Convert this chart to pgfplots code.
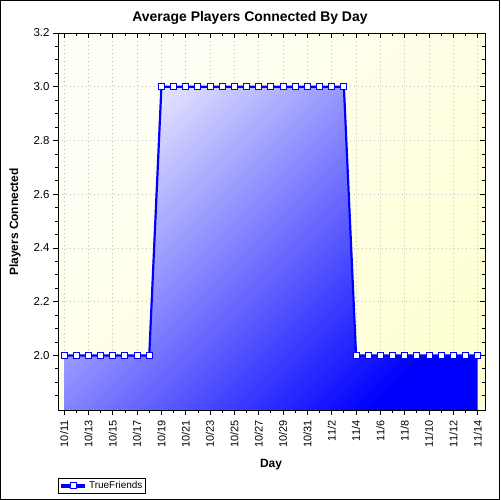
\documentclass[border=0pt]{standalone}
\usepackage{fontspec}
\setmainfont{Liberation Sans}
\usepackage{pgfplots}
\pgfplotsset{compat=1.18}
\definecolor{lineblue}{RGB}{0,0,255}
\definecolor{fillhi}{RGB}{225,225,255}
\definecolor{bgtop}{RGB}{255,255,248}
\definecolor{bgyel}{RGB}{255,255,212}
\begin{document}
\begin{tikzpicture}[x=1bp,y=1bp]
\useasboundingbox (0,0) rectangle (500,500);
\draw[black, line width=1bp] (0.5,0.5) rectangle (499.5,499.5);
\pgfplotsset{
  commonax/.style={
    at={(58bp,90bp)}, anchor=south west,
    scale only axis, width=427bp, height=377bp,
    xmin=-0.5, xmax=34.6, ymin=1.797, ymax=3.2,
    xtick={0,2,...,34},
    ytick={2.0,2.2,...,3.2},
    minor xtick={0,...,34},
    minor ytick={1.85,1.9,...,3.15},
    major tick length=5bp, minor tick length=3bp,
    tick style={black, line width=0.8bp},
  }
}
\begin{axis}[commonax,
  axis background/.style={top color=bgtop, bottom color=bgyel, shading angle=45},
  axis line style={black, line width=0.9bp},
  xtick pos=bottom, ytick pos=left,
  tick align=outside,
  xticklabels={10/11,10/13,10/15,10/17,10/19,10/21,10/23,10/25,10/27,10/29,10/31,11/2,11/4,11/6,11/8,11/10,11/12,11/14},
  x tick label style={rotate=90, anchor=east, font=\fontsize{11}{12}\selectfont},
  xticklabel shift=2bp,
  y tick label style={font=\fontsize{11.5}{13}\selectfont},
  /pgf/number format/assume math mode=true,
  yticklabel={\pgfmathprintnumber[fixed, fixed zerofill, precision=1]{\tick}},
  grid=major,
  major grid style={gray!50, dash pattern=on 0.8bp off 3.2bp, line width=0.7bp},
  legend style={at={(0,-0.18)}, anchor=north west, draw=black, line width=0.8bp,
    font=\fontsize{10}{11}\selectfont, inner sep=1.2bp, row sep=0pt,
    legend cell align=left},
  legend image code/.code={\draw[mark repeat=2, mark phase=2, line width=3.5bp]
    plot coordinates {(0bp,0bp) (12bp,0bp) (24bp,0bp)};},
]
\addplot[draw=none, top color=fillhi, bottom color=lineblue, shading angle=45, forget plot]
coordinates {
(0,2.0) (1,2.0) (2,2.0) (3,2.0) (4,2.0) (5,2.0) (6,2.0) (7,2.0)
(8,3.0) (9,3.0) (10,3.0) (11,3.0) (12,3.0) (13,3.0) (14,3.0) (15,3.0)
(16,3.0) (17,3.0) (18,3.0) (19,3.0) (20,3.0) (21,3.0) (22,3.0) (23,3.0)
(24,2.0) (25,2.0) (26,2.0) (27,2.0) (28,2.0) (29,2.0) (30,2.0) (31,2.0)
(32,2.0) (33,2.0) (34,2.0)
} \closedcycle;
\addplot[lineblue, line width=2.2bp, mark=square*, mark size=3bp,
  mark options={fill=white, draw=lineblue, line width=1bp}]
coordinates {
(0,2.0) (1,2.0) (2,2.0) (3,2.0) (4,2.0) (5,2.0) (6,2.0) (7,2.0)
(8,3.0) (9,3.0) (10,3.0) (11,3.0) (12,3.0) (13,3.0) (14,3.0) (15,3.0)
(16,3.0) (17,3.0) (18,3.0) (19,3.0) (20,3.0) (21,3.0) (22,3.0) (23,3.0)
(24,2.0) (25,2.0) (26,2.0) (27,2.0) (28,2.0) (29,2.0) (30,2.0) (31,2.0)
(32,2.0) (33,2.0) (34,2.0)
};
\addlegendentry{TrueFriends}
\end{axis}
\begin{axis}[commonax,
  axis line style={black, line width=0.9bp},
  xtick pos=top, ytick pos=right,
  tick align=inside,
  xticklabels={}, yticklabels={},
]
\end{axis}
\node[font=\bfseries\fontsize{14}{16}\selectfont] at (250,482) {Average Players Connected By Day};
\node[font=\bfseries\fontsize{12}{14}\selectfont, rotate=90] at (15,278) {Players Connected};
\node[font=\bfseries\fontsize{12}{14}\selectfont] at (271,35) {Day};
\end{tikzpicture}
\end{document}
